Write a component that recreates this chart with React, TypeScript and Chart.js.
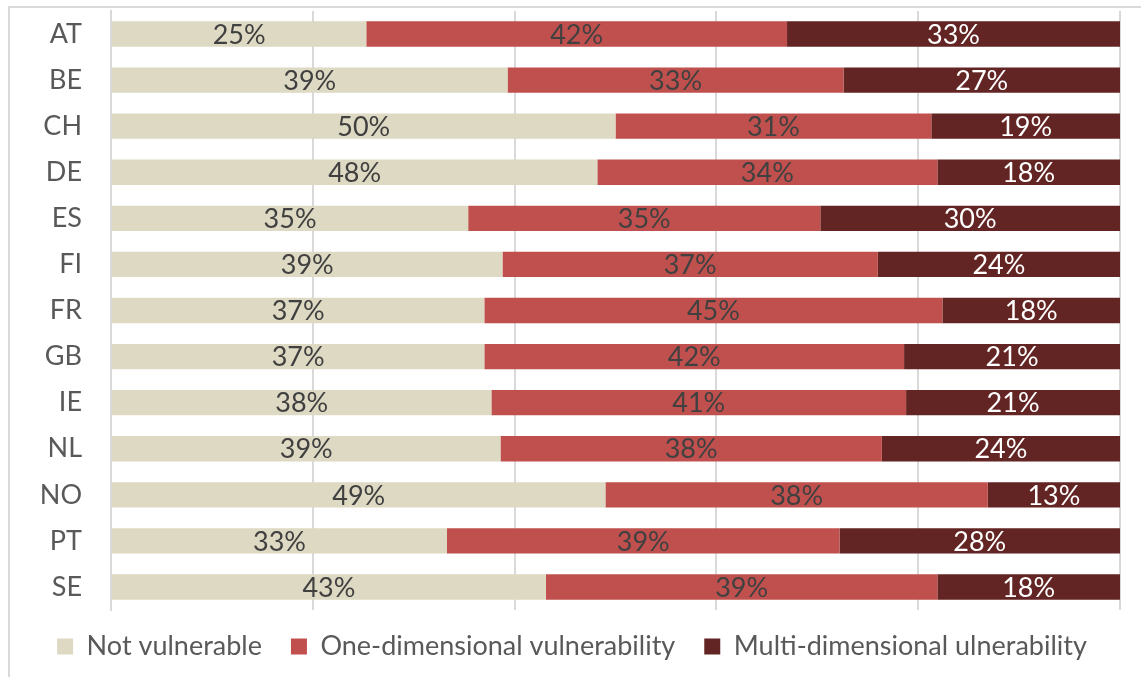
import React, { useEffect, useRef } from "react";
import { Chart, registerables } from "chart.js";

Chart.register(...registerables);

const categories = ["AT", "BE", "CH", "DE", "ES", "FI", "FR", "GB", "IE", "NL", "NO", "PT", "SE"];
const notVulnerable = [25.3, 39.3, 50.0, 48.2, 35.4, 38.8, 37.0, 37.0, 37.7, 38.6, 49.0, 33.3, 43.1];
const oneDimensional = [41.7, 33.3, 31.3, 33.7, 34.9, 37.2, 45.4, 41.6, 41.1, 37.8, 37.9, 38.9, 38.8];
const multiDimensional = [33.0, 27.4, 18.7, 18.1, 29.7, 24.0, 17.6, 21.4, 21.2, 23.6, 13.1, 27.8, 18.1];
const seriesNames = ["Not vulnerable", "One-dimensional vulnerability", "Multi-dimensional ulnerability"];
const seriesColors = ["#DDD9C3", "#C0504D", "#632523"];
const labelColors = ["#404040", "#404040", "#FFFFFF"];

const FONT = "Lato, 'Open Sans', sans-serif";

const labelPlugin = {
  id: "barLabels",
  afterLayout(chart: any) {
    const lg = chart.legend;
    if (lg) {
      lg.top -= 6;
      lg.bottom -= 6;
      lg.left += 12;
      lg.right += 12;
    }
  },
  afterDatasetsDraw(chart: any) {
    const ctx = chart.ctx;
    ctx.save();
    ctx.font = `27px ${FONT}`;
    ctx.textAlign = "center";
    ctx.textBaseline = "middle";
    chart.data.datasets.forEach((ds: any, di: number) => {
      const meta = chart.getDatasetMeta(di);
      meta.data.forEach((el: any, i: number) => {
        const v = ds.data[i];
        const cx = (el.x + el.base) / 2;
        ctx.fillStyle = labelColors[di];
        ctx.fillText(Math.round(v) + "%", cx, el.y + 1);
      });
    });
    ctx.restore();
  },
};

export default function App() {
  const ref = useRef<HTMLCanvasElement>(null);
  useEffect(() => {
    const chart = new Chart(ref.current!, {
      type: "bar",
      data: {
        labels: categories,
        datasets: [notVulnerable, oneDimensional, multiDimensional].map((d, i) => ({
          label: seriesNames[i],
          data: d,
          backgroundColor: seriesColors[i],
          borderWidth: 0,
          barPercentage: 0.55,
          categoryPercentage: 1,
        })),
      },
      options: {
        indexAxis: "y",
        animation: false,
        responsive: false,
        maintainAspectRatio: false,
        layout: { padding: { top: 11, right: 21, bottom: 1, left: 0 } },
        plugins: {
          legend: {
            position: "bottom",
            labels: {
              boxWidth: 16,
              boxHeight: 16,
              padding: 29,
              color: "#595959",
              font: { family: FONT, size: 27 },
            },
          },
          tooltip: { enabled: false },
        },
        scales: {
          x: {
            stacked: true,
            min: 0,
            max: 100,
            ticks: { display: false, stepSize: 20 },
            grid: { color: "#D9D9D9", lineWidth: 2, drawTicks: false },
            border: { display: false },
          },
          y: {
            stacked: true,
            grid: { display: false, drawTicks: false },
            border: { color: "#D9D9D9", width: 2 },
            ticks: { color: "#595959", font: { family: FONT, size: 27 }, padding: 29 },
            afterFit(s: any) {
              s.width = 111;
              s.paddingTop = 0;
              s.paddingBottom = 0;
            },
          },
        },
      },
      plugins: [labelPlugin],
    } as any);
    return () => chart.destroy();
  }, []);
  return (
    <div style={{ position: "absolute", left: 0, top: 0, width: 1141, height: 677, background: "#fff" }}>
      <div
        style={{
          position: "absolute",
          left: 8,
          top: 6,
          width: 1133,
          height: 671,
          borderTop: "2px solid #D9D9D9",
          borderLeft: "2px solid #D9D9D9",
          boxSizing: "border-box",
        }}
      />
      <canvas ref={ref} width={1141} height={677} style={{ position: "absolute", left: 0, top: 0 }} />
    </div>
  );
}
